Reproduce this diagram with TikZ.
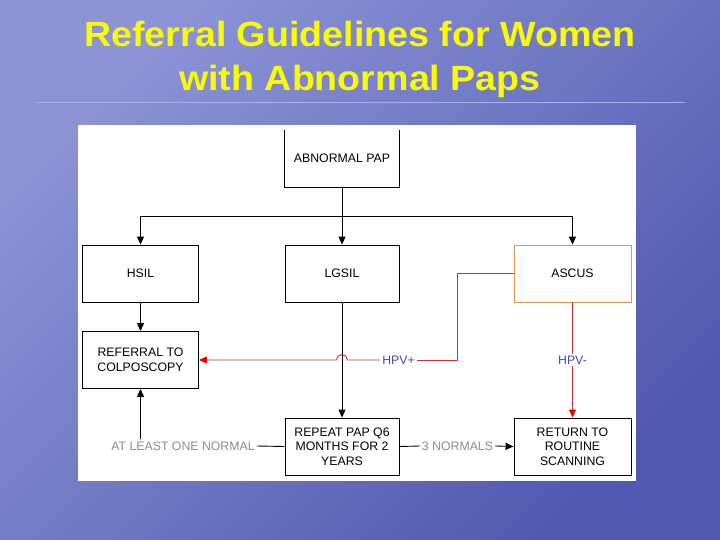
\documentclass[tikz,border=0pt]{standalone}
\usepackage{fontspec}
\setmainfont{Liberation Sans}
\usetikzlibrary{arrows.meta}
\definecolor{bgA}{RGB}{140,148,214}
\definecolor{bgB}{RGB}{80,90,176}
\definecolor{ttl}{RGB}{250,250,0}
\definecolor{sepc}{RGB}{168,176,236}
\definecolor{orng}{RGB}{226,152,84}
\definecolor{redl}{RGB}{200,50,50}
\definecolor{redt}{RGB}{232,0,0}
\definecolor{hpvc}{RGB}{72,72,180}
\definecolor{lblc}{RGB}{140,140,140}
\begin{document}
\begin{tikzpicture}[x=1pt,y=-1pt,
  boxtext/.style={font=\fontsize{12.3}{14.5}\selectfont, align=center},
  box/.style={boxtext, draw=black, line width=0.9pt, minimum height=57pt, inner sep=2pt},
  lbl/.style={font=\fontsize{12.3}{14.5}\selectfont, text=lblc, fill=white, inner sep=2pt},
  hpv/.style={font=\fontsize{12.3}{14.5}\selectfont, text=hpvc, fill=white, inner sep=2pt},
  conn/.style={line width=0.9pt, draw=black},
  arr/.style={conn, -{Triangle[length=8pt,width=7pt]}},
  redconn/.style={line width=0.9pt, draw=redl},
  redarr/.style={redconn, -{Triangle[length=8pt,width=7pt,color=redt]}},
  ttlstyle/.style={anchor=base, text=ttl, font=\fontsize{35}{40}\bfseries\selectfont, xscale=1.075, inner sep=0pt}
]
\useasboundingbox (0,0) rectangle (720,540);
\shade[top color=bgA, bottom color=bgB, shading angle=45] (0,0) rectangle (720,540);
\node[ttlstyle] (t1) at (360,47) {Referral Guidelines for Women};
\node[ttlstyle] (t2) at (360,91) {with Abnormal Paps};
\draw[sepc, line width=0.8pt] (36,102) -- (685,102);
\fill[white] (78,125) rectangle (636,481);

\node[boxtext, minimum width=114pt, minimum height=57pt, inner sep=2pt] (abn) at (342,158.5) {ABNORMAL PAP};
\draw[conn] (abn.north west) -- (abn.south west) -- (abn.south east) -- (abn.north east);

\node[box, minimum width=116pt] (hsil) at (140.5,273.5) {HSIL};
\node[box, minimum width=114pt] (lgsil) at (342,273.5) {LGSIL};
\node[box, minimum width=117pt, draw=orng] (ascus) at (572.5,273.5) {ASCUS};
\node[box, minimum width=116pt] (ref) at (140.5,360) {REFERRAL TO\\COLPOSCOPY};
\node[box, minimum width=114pt] (rep) at (342,446.5) {REPEAT PAP Q6\\MONTHS FOR 2\\YEARS};
\node[box, minimum width=117pt] (ret) at (572.5,446.5) {RETURN TO\\ROUTINE\\SCANNING};

\coordinate (split) at (342,216);
\draw[arr] (abn.south) -- (lgsil.north);
\draw[arr] (split) -| (hsil.north);
\draw[arr] (split) -| (ascus.north);
\draw[arr] (hsil.south) -- (ref.north);
\draw[arr] (lgsil.south) -- (rep.north);

\node[lbl] (atl) at (183,446) {AT LEAST ONE NORMAL};
\draw[conn] (rep.west) -- (atl.east);
\draw[arr] (atl.north -| ref.south) -- (ref.south);

\node[lbl] (three) at (457.5,446) {3 NORMALS};
\draw[conn] (rep.east) -- (three.west);
\draw[arr] (three.east) -- (ret.west);

\node[hpv] (hpvp) at (398.5,360) {HPV+};
\coordinate (rc) at (457.5,360);
\coordinate (hopR) at (347.5,360);
\draw[redconn] (ascus.west) -| (rc) -- (hpvp.east);
\draw[redarr] (hpvp.west) -- (hopR) arc[start angle=0, end angle=-180, radius=5.5] -- (ref.east);

\draw[redarr] (ascus.south) -- node[hpv, pos=0.5] (hpvm) {HPV-} (ret.north);
\end{tikzpicture}
\end{document}
